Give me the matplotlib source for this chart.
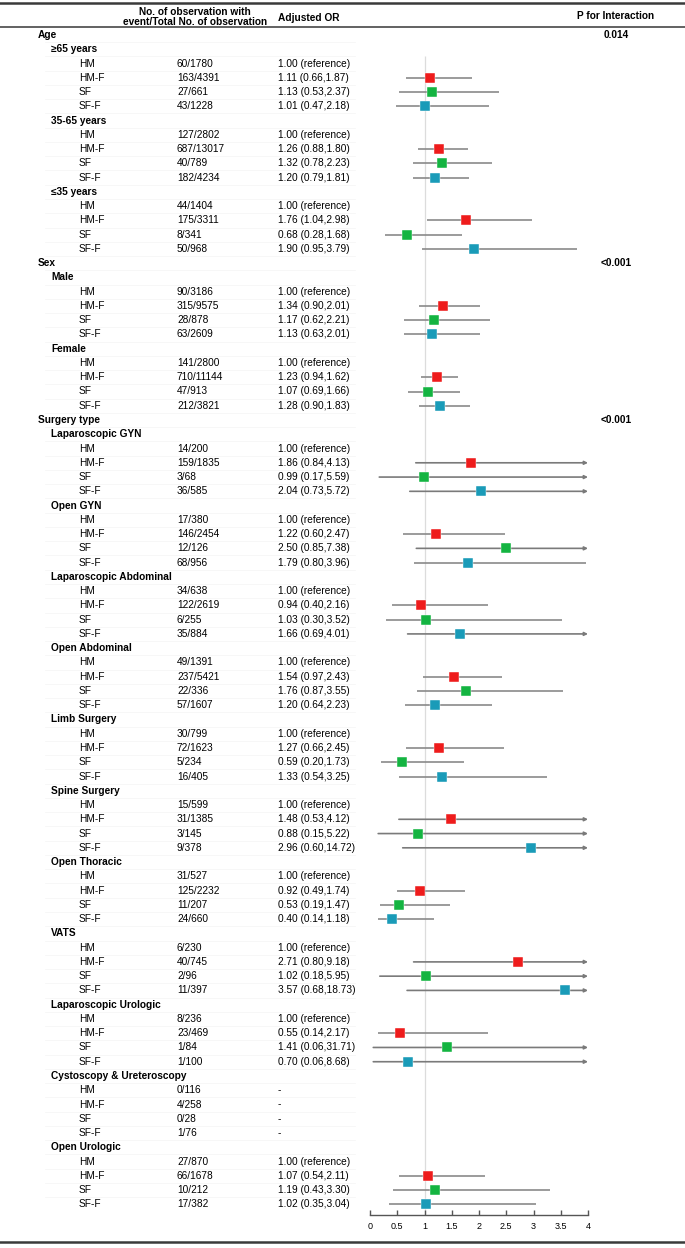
import numpy as np
import matplotlib
matplotlib.use("Agg")
import matplotlib.pyplot as plt

plt.rcParams['font.family'] = ['Liberation Sans', 'DejaVu Sans']

# ---- data ----
groups = ['Age', 'Sex', 'Surgery type']
p_interaction = ['0.014', '<0.001', '<0.001']
arms = ['HM', 'HM-F', 'SF', 'SF-F']
arm_colors = ['none', '#ee1c1c', '#14b441', '#1a9bb8']

subgroup_names = ['≥65 years', '35-65 years', '≤35 years',
                  'Male', 'Female',
                  'Laparoscopic GYN', 'Open GYN', 'Laparoscopic Abdominal',
                  'Open Abdominal', 'Limb Surgery', 'Spine Surgery',
                  'Open Thoracic', 'VATS', 'Laparoscopic Urologic',
                  'Cystoscopy & Ureteroscopy', 'Open Urologic']
subgroup_group = [0, 0, 0, 1, 1, 2, 2, 2, 2, 2, 2, 2, 2, 2, 2, 2]

counts = [
    ['60/1780', '163/4391', '27/661', '43/1228'],
    ['127/2802', '687/13017', '40/789', '182/4234'],
    ['44/1404', '175/3311', '8/341', '50/968'],
    ['90/3186', '315/9575', '28/878', '63/2609'],
    ['141/2800', '710/11144', '47/913', '212/3821'],
    ['14/200', '159/1835', '3/68', '36/585'],
    ['17/380', '146/2454', '12/126', '68/956'],
    ['34/638', '122/2619', '6/255', '35/884'],
    ['49/1391', '237/5421', '22/336', '57/1607'],
    ['30/799', '72/1623', '5/234', '16/405'],
    ['15/599', '31/1385', '3/145', '9/378'],
    ['31/527', '125/2232', '11/207', '24/660'],
    ['6/230', '40/745', '2/96', '11/397'],
    ['8/236', '23/469', '1/84', '1/100'],
    ['0/116', '4/258', '0/28', '1/76'],
    ['27/870', '66/1678', '10/212', '17/382'],
]

nan = np.nan
or_est = [
    [1.00, 1.11, 1.13, 1.01],
    [1.00, 1.26, 1.32, 1.20],
    [1.00, 1.76, 0.68, 1.90],
    [1.00, 1.34, 1.17, 1.13],
    [1.00, 1.23, 1.07, 1.28],
    [1.00, 1.86, 0.99, 2.04],
    [1.00, 1.22, 2.50, 1.79],
    [1.00, 0.94, 1.03, 1.66],
    [1.00, 1.54, 1.76, 1.20],
    [1.00, 1.27, 0.59, 1.33],
    [1.00, 1.48, 0.88, 2.96],
    [1.00, 0.92, 0.53, 0.40],
    [1.00, 2.71, 1.02, 3.57],
    [1.00, 0.55, 1.41, 0.70],
    [nan, nan, nan, nan],
    [1.00, 1.07, 1.19, 1.02],
]
or_lo = [
    [nan, 0.66, 0.53, 0.47],
    [nan, 0.88, 0.78, 0.79],
    [nan, 1.04, 0.28, 0.95],
    [nan, 0.90, 0.62, 0.63],
    [nan, 0.94, 0.69, 0.90],
    [nan, 0.84, 0.17, 0.73],
    [nan, 0.60, 0.85, 0.80],
    [nan, 0.40, 0.30, 0.69],
    [nan, 0.97, 0.87, 0.64],
    [nan, 0.66, 0.20, 0.54],
    [nan, 0.53, 0.15, 0.60],
    [nan, 0.49, 0.19, 0.14],
    [nan, 0.80, 0.18, 0.68],
    [nan, 0.14, 0.06, 0.06],
    [nan, nan, nan, nan],
    [nan, 0.54, 0.43, 0.35],
]
or_hi = [
    [nan, 1.87, 2.37, 2.18],
    [nan, 1.80, 2.23, 1.81],
    [nan, 2.98, 1.68, 3.79],
    [nan, 2.01, 2.21, 2.01],
    [nan, 1.62, 1.66, 1.83],
    [nan, 4.13, 5.59, 5.72],
    [nan, 2.47, 7.38, 3.96],
    [nan, 2.16, 3.52, 4.01],
    [nan, 2.43, 3.55, 2.23],
    [nan, 2.45, 1.73, 3.25],
    [nan, 4.12, 5.22, 14.72],
    [nan, 1.74, 1.47, 1.18],
    [nan, 9.18, 5.95, 18.73],
    [nan, 2.17, 31.71, 8.68],
    [nan, nan, nan, nan],
    [nan, 2.11, 3.30, 3.04],
]

x_ticks = [0, 0.5, 1, 1.5, 2, 2.5, 3, 3.5, 4]
x_tick_labels = ['0', '0.5', '1', '1.5', '2', '2.5', '3', '3.5', '4']

# ---- layout ----
W, H = 685, 1248
y0, pitch = 35, 14.26          # pixel centre of first row, row spacing
FS = 7.3


def row_of(px):
    return (px - y0) / pitch


# build row list
rows = []
for g, gname in enumerate(groups):
    rows.append(('group', g))
    for s, sg in enumerate(subgroup_group):
        if sg != g:
            continue
        rows.append(('sub', s))
        for a in range(len(arms)):
            rows.append(('arm', s, a))

fig = plt.figure(figsize=(W / 100, H / 100), dpi=100)

tax = fig.add_axes([0, 0, 1, 1])
tax.set_xlim(0, W)
tax.set_ylim(row_of(H), row_of(0))
tax.axis('off')

# rules
tax.axhline(row_of(3), color='#3a3a3a', lw=1.8)
tax.axhline(row_of(27), color='#555555', lw=1.3)
tax.axhline(row_of(1242), color='#3a3a3a', lw=1.8)

# header
tax.text(195, row_of(17), 'No. of observation with\nevent/Total No. of observation',
         ha='center', va='center', fontsize=FS, fontweight='bold', linespacing=0.95)
tax.text(278, row_of(18), 'Adjusted OR', ha='left', va='center',
         fontsize=FS, fontweight='bold')
tax.text(577, row_of(16), 'P for Interaction', ha='left', va='center',
         fontsize=FS, fontweight='bold')

ax = fig.add_axes([370 / W, 1 - 1215 / H, 218 / W, (1215 - 28) / H])
ax.patch.set_visible(False)
ax.set_xlim(0, 4)
ax.set_ylim(row_of(1215), row_of(28))

for r, row in enumerate(rows):
    if r < len(rows) - 1:
        tax.plot([45, 355], [r + 0.5, r + 0.5], color='#f6f6f6', lw=0.6, zorder=0)
    if row[0] == 'group':
        g = row[1]
        tax.text(38, r, groups[g], ha='left', va='center', fontsize=FS, fontweight='bold')
        tax.text(616, r, p_interaction[g], ha='center', va='center',
                 fontsize=FS, fontweight='bold')
    elif row[0] == 'sub':
        tax.text(51, r, subgroup_names[row[1]], ha='left', va='center',
                 fontsize=FS, fontweight='bold')
    else:
        s, a = row[1], row[2]
        tax.text(79, r, arms[a], ha='left', va='center', fontsize=FS)
        tax.text(177, r, counts[s][a], ha='left', va='center', fontsize=FS)
        est, lo, hi = or_est[s][a], or_lo[s][a], or_hi[s][a]
        if np.isnan(est):
            label = '-'
        elif np.isnan(lo):
            label = f'{est:.2f} (reference)'
        else:
            label = f'{est:.2f} ({lo:.2f},{hi:.2f})'
        tax.text(278, r, label, ha='left', va='center', fontsize=FS)

        if np.isnan(lo):
            continue
        if hi > 4:
            ax.annotate('', xy=(4, r), xytext=(lo, r),
                        arrowprops=dict(arrowstyle='-|>', color='#7a7a7a', lw=1.2,
                                        mutation_scale=5, shrinkA=0, shrinkB=0),
                        annotation_clip=False)
        else:
            ax.plot([lo, hi], [r, r], color='#8a8a8a', lw=1.2, solid_capstyle='butt')
        ax.plot(est, r, marker='s', ms=6.8, color=arm_colors[a], mec='white',
                mew=0.3, zorder=3, clip_on=False)

# reference line at OR = 1
ax.vlines(1, 1.5, row_of(1215), color='#dcdcdc', lw=0.9, zorder=0)

for side in ['top', 'right', 'left']:
    ax.spines[side].set_visible(False)
ax.spines['bottom'].set_color('#555555')
ax.spines['bottom'].set_linewidth(1.0)
ax.set_yticks([])
ax.set_xticks(x_ticks)
ax.set_xticklabels(x_tick_labels)
ax.tick_params(axis='x', direction='in', length=3.5, width=1.0, color='#555555',
               labelsize=6.5, pad=5)

fig.savefig('out.png', dpi=100)
